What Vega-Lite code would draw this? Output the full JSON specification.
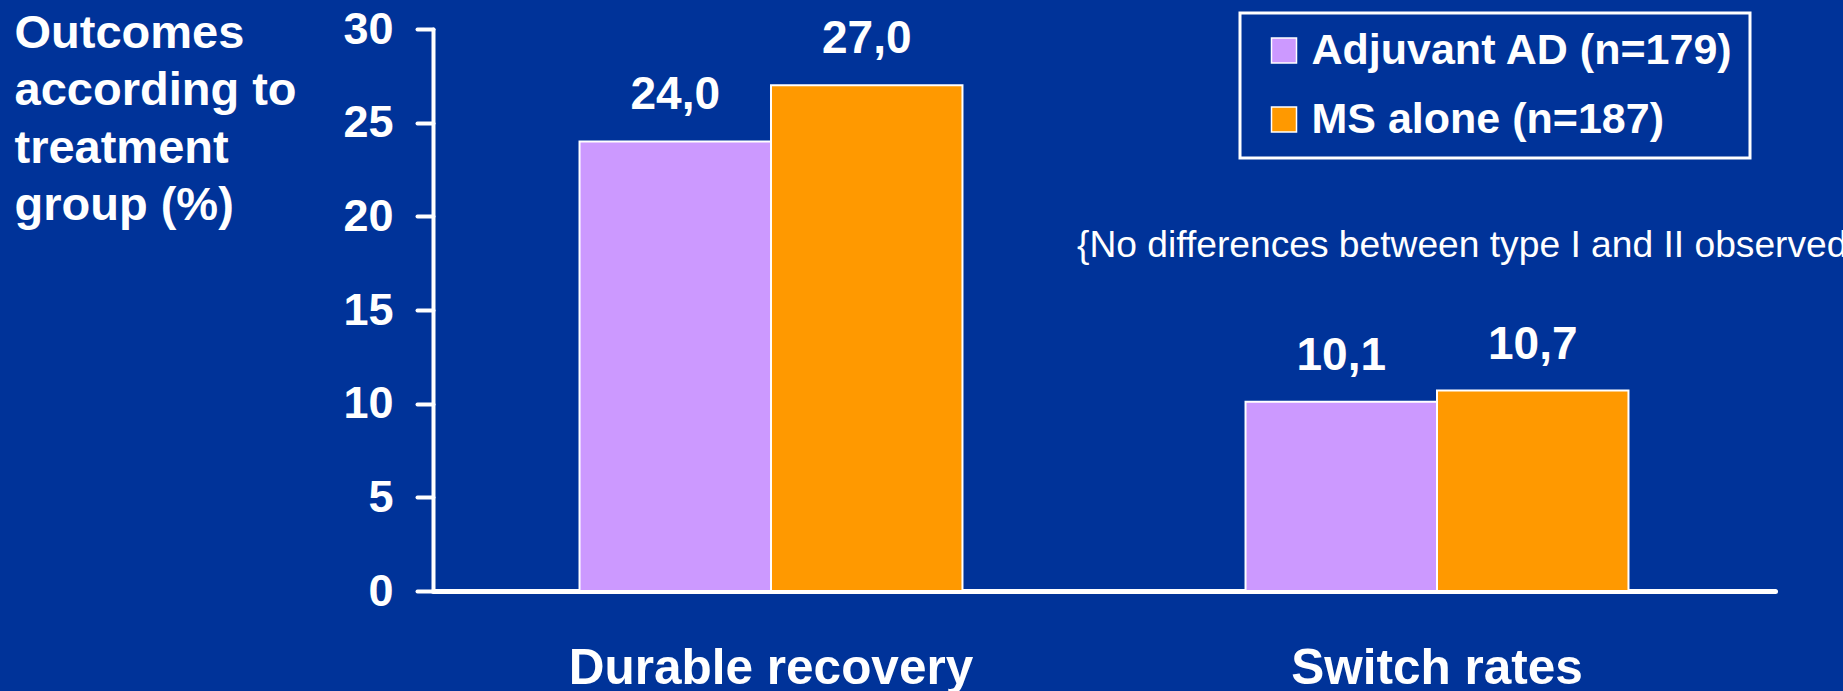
{
  "$schema": "https://vega.github.io/schema/vega-lite/v6.json",
  "width": 1342,
  "height": 562,
  "autosize": "none",
  "padding": {"left": 433, "top": 29, "right": 68, "bottom": 100},
  "background": "#003399",
  "config": {
    "view": {"stroke": null},
    "font": "Liberation Sans",
    "locale": {
      "number": {"decimal": ",", "thousands": ".", "grouping": [3], "currency": ["", " €"]}
    },
    "legend": {"strokeWidth": 3}
  },
  "data": {
    "values": [
      {"outcome": "Durable recovery", "group": "Adjuvant AD (n=179)", "pct": 24.0},
      {"outcome": "Durable recovery", "group": "MS alone (n=187)", "pct": 27.0},
      {"outcome": "Switch rates", "group": "Adjuvant AD (n=179)", "pct": 10.1},
      {"outcome": "Switch rates", "group": "MS alone (n=187)", "pct": 10.7}
    ]
  },
  "layer": [
    {
      "mark": {"type": "bar", "stroke": "white", "strokeWidth": 2},
      "encoding": {
        "x": {
          "field": "outcome",
          "type": "nominal",
          "sort": null,
          "scale": {"paddingInner": 0.425, "paddingOuter": 0.22},
          "axis": {
            "title": null,
            "labelAngle": 0,
            "ticks": false,
            "tickSize": 0,
            "labelPadding": 53,
            "labelFontSize": 49.5,
            "labelFontWeight": "bold",
            "labelColor": "white",
            "labelLimit": 600,
            "domainColor": "white",
            "domainWidth": 5,
            "domainCap": "round"
          }
        },
        "xOffset": {
          "field": "group",
          "type": "nominal",
          "sort": ["Adjuvant AD (n=179)", "MS alone (n=187)"],
          "scale": {"paddingInner": 0, "paddingOuter": 0}
        },
        "y": {
          "field": "pct",
          "type": "quantitative",
          "scale": {"domain": [0, 30], "nice": false},
          "axis": {
            "values": [0, 5, 10, 15, 20, 25, 30],
            "grid": false,
            "title": ["Outcomes", "according to", "treatment", "group (%)"],
            "titleFontSize": 47,
            "titleFontWeight": "bold",
            "titleColor": "white",
            "titleAngle": 0,
            "titleAlign": "left",
            "titleBaseline": "alphabetic",
            "titleX": -419,
            "titleY": 18,
            "titleLineHeight": 57.5,
            "labelFontSize": 45,
            "labelFontWeight": "bold",
            "labelColor": "white",
            "labelPadding": 24,
            "tickColor": "white",
            "tickWidth": 4,
            "tickSize": 16,
            "tickCap": "round",
            "domainColor": "white",
            "domainWidth": 4,
            "domainCap": "round"
          }
        },
        "color": {
          "field": "group",
          "type": "nominal",
          "scale": {
            "domain": ["Adjuvant AD (n=179)", "MS alone (n=187)"],
            "range": ["#CC99FF", "#FF9900"]
          },
          "legend": {
            "title": null,
            "orient": "none",
            "legendX": 807,
            "legendY": -16,
            "direction": "vertical",
            "symbolType": "square",
            "symbolSize": 625,
            "symbolStrokeColor": "white",
            "symbolStrokeWidth": 1.5,
            "symbolOffset": 6.5,
            "labelFontSize": 43,
            "labelFontWeight": "bold",
            "labelColor": "white",
            "labelLimit": 600,
            "labelOffset": 6,
            "padding": 16,
            "rowPadding": 25,
            "strokeColor": "white"
          }
        }
      }
    },
    {
      "mark": {
        "type": "text",
        "baseline": "alphabetic",
        "dy": -32,
        "fontSize": 46,
        "fontWeight": "bold",
        "color": "white"
      },
      "encoding": {
        "x": {"field": "outcome", "type": "nominal", "sort": null},
        "xOffset": {
          "field": "group",
          "type": "nominal",
          "sort": ["Adjuvant AD (n=179)", "MS alone (n=187)"]
        },
        "y": {"field": "pct", "type": "quantitative"},
        "text": {"field": "pct", "type": "quantitative", "format": ".1f"}
      }
    },
    {
      "data": {"values": [{"note": "{No differences between type I and II observed}"}]},
      "mark": {
        "type": "text",
        "align": "left",
        "baseline": "alphabetic",
        "dx": -360,
        "fontSize": 37.2,
        "color": "white"
      },
      "encoding": {
        "x": {"datum": "Switch rates"},
        "y": {"datum": 17.85},
        "text": {"field": "note"}
      }
    }
  ]
}
